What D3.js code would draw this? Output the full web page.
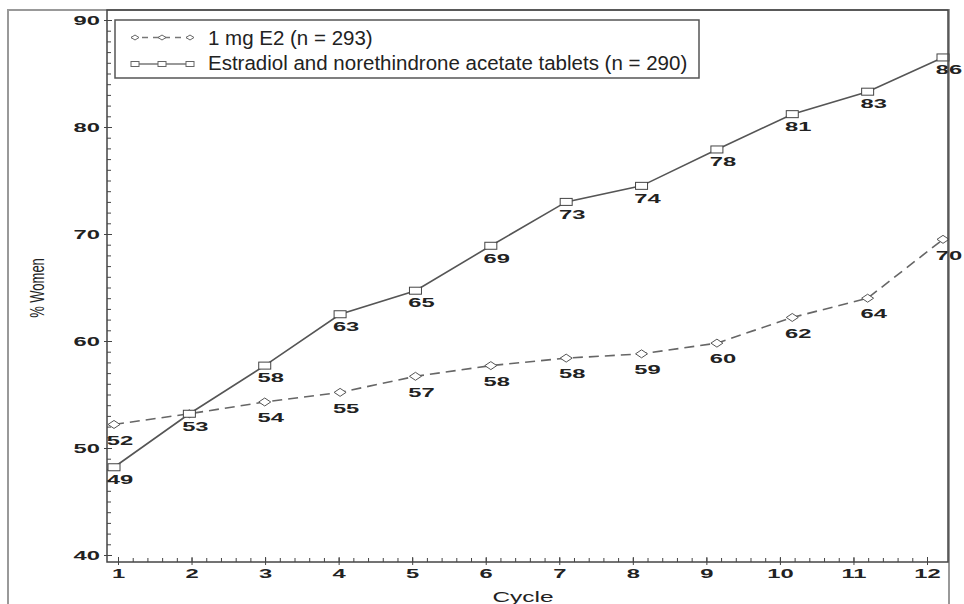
<!DOCTYPE html>
<html lang="en">
<head>
<meta charset="UTF-8">
<title>% Women by Cycle</title>
<style>
    body { margin: 0; background: #fff; }
    text { font-family: "Liberation Sans", Arial, sans-serif; fill: #222; }
</style>
</head>
<body>
<svg id="chart" width="964" height="604"></svg>
<script src="https://d3js.org/d3.v7.min.js"></script>
<script>
    // values (marker positions) and the printed labels
    const cycles = [1, 2, 3, 4, 5, 6, 7, 8, 9, 10, 11, 12];
    const e2Values = [52.2, 53.2, 54.3, 55.2, 56.7, 57.7, 58.4, 58.8, 59.8, 62.2, 64.0, 69.5];
    const e2Labels = [52, 53, 54, 55, 57, 58, 58, 59, 60, 62, 64, 70];
    const comboValues = [48.2, 53.2, 57.7, 62.5, 64.7, 68.9, 73.0, 74.5, 77.9, 81.2, 83.3, 86.5];
    const comboLabels = [49, 53, 58, 63, 65, 69, 73, 74, 78, 81, 83, 86];
    const seriesNames = ["1 mg E2 (n = 293)", "Estradiol and norethindrone acetate tablets (n = 290)"];
    const yTicks = [40, 50, 60, 70, 80, 90];

    const plot = {left: 107, top: 10, right: 948, bottom: 562};
    const stretch = 1.9;   // the source image is squashed sideways, numbers look wide

    const svg = d3.select('#chart');

    const y = d3.scaleLinear().domain([40, 90]).range([555, 20]);
    const xAxisScale = d3.scaleLinear().domain([1, 12]).range([118, 927]);
    const xPoint = d3.scaleLinear().domain([1, 12]).range([114, 943]); // markers sit a bit off the ticks in the source

    // outer picture frame
    svg.append('rect')
        .attr('x', 8).attr('y', 10)
        .attr('width', 941).attr('height', 610)
        .attr('fill', 'none').attr('stroke', '#999').attr('stroke-width', 2);

    // ---- axes ----
    const yMajor = svg.append('g').attr('transform', `translate(${plot.left},0)`)
        .call(d3.axisLeft(y).tickValues(yTicks).tickSize(3).tickPadding(6));
    svg.append('g').attr('transform', `translate(${plot.left},0)`)
        .call(d3.axisRight(y).tickValues(d3.range(40, 91, 1)).tickSize(4).tickFormat(''));
    svg.append('g').attr('transform', `translate(${plot.left},0)`)
        .call(d3.axisRight(y).tickValues(yTicks).tickSize(5).tickFormat(''));

    const xMajor = svg.append('g').attr('transform', `translate(0,${plot.bottom})`)
        .call(d3.axisBottom(xAxisScale).tickValues(cycles).tickSize(3).tickPadding(5));
    svg.append('g').attr('transform', `translate(0,${plot.bottom})`)
        .call(d3.axisTop(xAxisScale).tickValues(d3.range(0, 56).map(i => 1 + i / 5)).tickSize(4).tickFormat(''));
    svg.append('g').attr('transform', `translate(0,${plot.bottom})`)
        .call(d3.axisTop(xAxisScale).tickValues(cycles).tickSize(5).tickFormat(''));

    svg.selectAll('.domain').remove();
    svg.selectAll('.tick line').attr('stroke', '#444');

    yMajor.selectAll('text')
        .attr('x', null).attr('dy', null)
        .attr('font-size', 12.5).attr('font-family', null)
        .attr('font-weight', 'bold')
        .attr('dominant-baseline', 'central')
        .attr('transform', `translate(-7,0) scale(${stretch},1)`);
    xMajor.selectAll('text')
        .attr('y', null).attr('dy', null)
        .attr('font-size', 12.5).attr('font-family', null)
        .attr('font-weight', 'bold')
        .attr('dominant-baseline', 'central')
        .attr('transform', `translate(0,12) scale(${stretch},1)`);

    // axis titles
    svg.append('text')
        .attr('transform', `translate(523,602) scale(1.75,1)`)
        .attr('text-anchor', 'middle')
        .attr('font-size', 14)
        .text('Cycle');
    svg.append('text')
        .attr('transform', `translate(38,288) scale(1.5,1) rotate(-90)`)
        .attr('text-anchor', 'middle')
        .attr('dominant-baseline', 'central')
        .attr('font-size', 13)
        .text('% Women');

    // ---- series ----
    const e2 = cycles.map((c, i) => ({c: c, v: e2Values[i], label: e2Labels[i]}));
    const combo = cycles.map((c, i) => ({c: c, v: comboValues[i], label: comboLabels[i]}));

    const line = d3.line().x(d => xPoint(d.c)).y(d => y(d.v));

    svg.append('path').datum(e2)
        .attr('d', line)
        .attr('fill', 'none').attr('stroke', '#666').attr('stroke-width', 1.6)
        .attr('stroke-dasharray', '10,6');
    svg.append('path').datum(combo)
        .attr('d', line)
        .attr('fill', 'none').attr('stroke', '#555').attr('stroke-width', 1.6);

    const diamond = 'M0,-4L6,0L0,4L-6,0Z';
    svg.append('g').selectAll('path')
        .data(e2)
        .join('path')
        .attr('d', diamond)
        .attr('transform', d => `translate(${xPoint(d.c)},${y(d.v)})`)
        .attr('fill', '#fff').attr('stroke', '#555').attr('stroke-width', 1);

    svg.append('g').selectAll('rect')
        .data(combo)
        .join('rect')
        .attr('x', d => xPoint(d.c) - 6)
        .attr('y', d => y(d.v) - 3.5)
        .attr('width', 12).attr('height', 7)
        .attr('fill', '#fff').attr('stroke', '#444').attr('stroke-width', 1);

    function valueLabels(data, drop) {
        svg.append('g').selectAll('text')
            .data(data)
            .join('text')
            .attr('transform', d => `translate(${xPoint(d.c) + 6},${y(d.v) + drop}) scale(${stretch},1)`)
            .attr('text-anchor', 'middle')
            .attr('dominant-baseline', 'central')
            .attr('font-size', 12.5)
            .attr('font-weight', 'bold')
            .text(d => d.label);
    }
    // where both series print the same number at the same spot, the source shows it once
    valueLabels(e2.filter((d, i) => !(d.label === combo[i].label && Math.abs(d.v - combo[i].v) < 1)), 16);
    valueLabels(combo, 12.5);

    // plot frame goes over the labels, like in the source
    svg.append('rect')
        .attr('x', plot.left).attr('y', plot.top)
        .attr('width', plot.right - plot.left).attr('height', plot.bottom - plot.top)
        .attr('fill', 'none').attr('stroke', '#444').attr('stroke-width', 1.5);

    // ---- legend ----
    const legend = svg.append('g');
    legend.append('rect')
        .attr('x', 115).attr('y', 20).attr('width', 584).attr('height', 58)
        .attr('fill', '#fff').attr('stroke', '#555').attr('stroke-width', 1.5);

    const rows = [
        {name: seriesNames[0], dash: '6,5', shape: 'diamond', cy: 37.5, base: 45},
        {name: seriesNames[1], dash: null, shape: 'square', cy: 64, base: 70}
    ];
    rows.forEach(r => {
        legend.append('line')
            .attr('x1', 131).attr('x2', 193)
            .attr('y1', r.cy).attr('y2', r.cy)
            .attr('stroke', '#777').attr('stroke-width', 1.4)
            .attr('stroke-dasharray', r.dash);
        [135, 162, 190].forEach(mx => {
            if (r.shape === 'diamond') {
                legend.append('path')
                    .attr('d', 'M0,-2.5L4,0L0,2.5L-4,0Z')
                    .attr('transform', `translate(${mx},${r.cy})`)
                    .attr('fill', '#fff').attr('stroke', '#666');
            } else {
                legend.append('rect')
                    .attr('x', mx - 4).attr('y', r.cy - 2.5)
                    .attr('width', 8).attr('height', 5)
                    .attr('fill', '#fff').attr('stroke', '#666');
            }
        });
        legend.append('text')
            .attr('x', 208).attr('y', r.base)
            .attr('font-size', 20.5)
            .text(r.name);
    });
</script>
</body>
</html>
